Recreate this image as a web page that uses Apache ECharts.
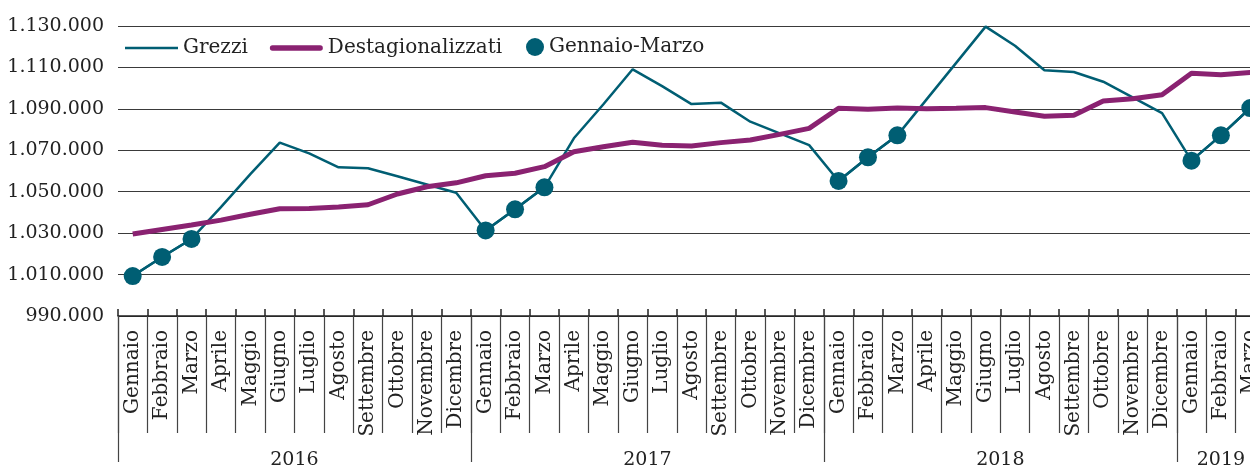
<!DOCTYPE html>
<html>
<head>
<meta charset="utf-8">
<script src="https://cdn.jsdelivr.net/npm/echarts@6/dist/echarts.min.js"></script>
<style>
  html, body { margin: 0; padding: 0; background: #fff; }
  #chart { width: 1250px; height: 466px; }
</style>
</head>
<body>
<div id="chart"></div>
<script>
var months = ['Gennaio', 'Febbraio', 'Marzo', 'Aprile', 'Maggio', 'Giugno', 'Luglio',
  'Agosto', 'Settembre', 'Ottobre', 'Novembre', 'Dicembre'];
var years = ['2016', '2017', '2018', '2019'];
var monthsPerYear = [12, 12, 12, 3];

var grezzi = [
  1009300, 1018500, 1027200, 1042600, 1058500, 1073700, 1068500, 1061800, 1061300, 1057500, 1053500, 1049500,
  1031300, 1041500, 1052100, 1075800, 1092100, 1109100, 1101000, 1092300, 1093000, 1083800, 1078200, 1072500,
  1055200, 1066600, 1077200, 1094700, 1112200, 1129700, 1120500, 1108600, 1107800, 1103100, 1095500, 1087900,
  1065000, 1077200, 1090400
];
var destagionalizzati = [
  1029600, 1031800, 1033900, 1036300, 1039100, 1041800, 1041900, 1042600, 1043700, 1048900, 1052400, 1054300,
  1057700, 1058900, 1062100, 1069300, 1071700, 1073900, 1072400, 1072100, 1073700, 1075000, 1077700, 1080600,
  1090300, 1089800, 1090400, 1090100, 1090300, 1090600, 1088500, 1086400, 1086900, 1093800, 1094900, 1096800,
  1107200, 1106500, 1107600
];
var gennaioMarzo = [
  1009300, 1018500, 1027200, null, null, null, null, null, null, null, null, null,
  1031300, 1041500, 1052100, null, null, null, null, null, null, null, null, null,
  1055200, 1066600, 1077200, null, null, null, null, null, null, null, null, null,
  1065000, 1077200, 1090400
];

var TEAL = '#005e73';
var PURPLE = '#8a2271';
var INK = '#222';
var FONT = 'DejaVu Serif';

// month category labels
var categories = [];
years.forEach(function (y, i) {
  for (var m = 0; m < monthsPerYear[i]; m++) categories.push(months[m]);
});

// year axis: half-month resolution so labels sit mid-block and ticks on year boundaries
var yearAxisData = [];
for (var k = 0; k < categories.length * 2 + 1; k++) yearAxisData.push('');
var yearTicks = [];
var start = 0;
years.forEach(function (y, i) {
  yearTicks.push(start * 2);
  yearAxisData[start * 2 + monthsPerYear[i]] = y;
  start += monthsPerYear[i];
});

function fmt(v) {
  return String(v).replace(/\B(?=(\d{3})+(?!\d))/g, '.');
}

var chart = echarts.init(document.getElementById('chart'));
var option = {
  animation: false,
  textStyle: { fontFamily: FONT, color: INK },
  grid: { left: 118, width: 1147, top: 26, bottom: 150, containLabel: false, outerBoundsMode: 'none' },
  legend: [{
    data: [
      { name: 'Grezzi', icon: 'path://M0,0H52V2.6H0Z' },
      { name: 'Destagionalizzati', icon: 'path://M2.6,0H49.4A2.6,2.6,0,0,1,49.4,5.2H2.6A2.6,2.6,0,0,1,2.6,0Z' }
    ],
    left: 120, top: 33,
    itemWidth: 53, itemHeight: 14, itemGap: 22,
    textStyle: { fontFamily: FONT, fontSize: 20, color: INK }
  }, {
    data: [{ name: 'Gennaio-Marzo', icon: 'circle' }],
    left: 521, top: 32,
    itemWidth: 18, itemHeight: 18,
    textStyle: { fontFamily: FONT, fontSize: 20, color: INK }
  }],
  xAxis: [{
    type: 'category',
    position: 'bottom',
    data: categories,
    boundaryGap: true,
    axisLine: { show: true, onZero: false, lineStyle: { color: INK, width: 1.5 } },
    axisTick: { show: true, interval: 0, length: 117, lineStyle: { color: '#444', width: 1.2 } },
    axisLabel: { interval: 0, rotate: 90, margin: 14, fontSize: 20, color: INK, fontFamily: FONT },
    splitLine: { show: false }
  }, {
    type: 'category',
    position: 'bottom',
    data: categories,
    boundaryGap: true,
    axisLine: { show: false, onZero: false },
    axisTick: { show: true, inside: true, interval: 0, length: 7, lineStyle: { color: INK, width: 1.5 } },
    axisLabel: { show: false }
  }, {
    type: 'category',
    position: 'bottom',
    data: yearAxisData,
    boundaryGap: false,
    axisLine: { show: false, onZero: false },
    axisTick: {
      show: true, length: 146,
      interval: function (index) { return yearTicks.indexOf(index) >= 0; },
      lineStyle: { color: '#444', width: 1.2 }
    },
    axisLabel: { interval: 0, margin: 135, fontSize: 19, color: INK, fontFamily: FONT }
  }],
  yAxis: {
    type: 'value',
    min: 990000, max: 1130000, interval: 20000,
    axisLine: { show: false },
    axisTick: { show: false },
    axisLabel: { formatter: fmt, fontSize: 19, color: INK, margin: 14, fontFamily: FONT },
    splitLine: { lineStyle: { color: '#3a3a3a', width: 1.2 } }
  },
  series: [{
    name: 'Grezzi',
    type: 'line',
    data: grezzi,
    symbol: 'none',
    color: TEAL,
    lineStyle: { color: TEAL, width: 2.5 },
    z: 2
  }, {
    name: 'Destagionalizzati',
    type: 'line',
    data: destagionalizzati,
    symbol: 'none',
    color: PURPLE,
    lineStyle: { color: PURPLE, width: 5 },
    z: 3
  }, {
    name: 'Gennaio-Marzo',
    type: 'line',
    data: gennaioMarzo,
    connectNulls: false,
    symbol: 'circle',
    symbolSize: 18,
    showSymbol: true,
    color: TEAL,
    itemStyle: { color: TEAL },
    lineStyle: { color: TEAL, width: 2.5 },
    z: 4
  }]
};
chart.setOption(option);
</script>
</body>
</html>
